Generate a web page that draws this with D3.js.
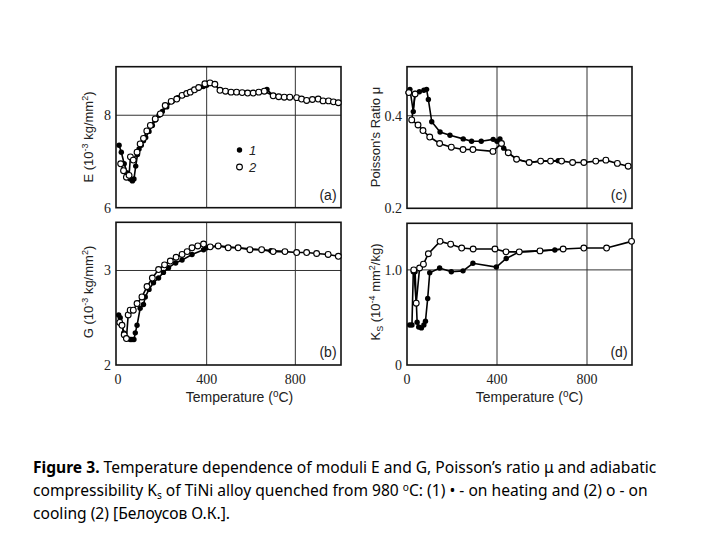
<!DOCTYPE html>
<html><head><meta charset="utf-8">
<script src="https://cdn.jsdelivr.net/npm/d3@7"></script>
<style>html,body{margin:0;padding:0;background:#fff;}svg{display:block;}</style>
</head><body>
<script>
// ---------------- data ----------------
const tempTicks = [0, 400, 800];

// (a) Young's modulus E
const eHeatT = [5, 15, 28, 42, 55, 65, 72, 80, 88, 95, 105, 115, 125, 140, 155, 170, 185, 200, 220, 245, 270, 300, 330, 360, 385, 400, 437, 460, 510, 560, 610, 660, 672, 700];
const eHeat  = [7.35, 7.2, 6.95, 6.75, 6.62, 6.58, 6.62, 6.9, 7.15, 7.27, 7.35, 7.45, 7.52, 7.65, 7.78, 7.9, 8.0, 8.08, 8.18, 8.3, 8.38, 8.45, 8.52, 8.58, 8.62, 8.65, 8.67, 8.54, 8.5, 8.49, 8.48, 8.52, 8.56, 8.42];
const eCoolT = [12, 25, 38, 50, 56, 69, 86, 100, 115, 130, 146, 168, 191, 213, 240, 265, 289, 310, 326, 345, 364, 392, 415, 437, 460, 485, 510, 535, 560, 585, 610, 635, 660, 700, 725, 750, 775, 806, 828, 851, 877, 903, 925, 950, 972, 994];
const eCool  = [6.95, 6.8, 6.66, 6.7, 7.1, 7.03, 7.2, 7.38, 7.5, 7.66, 7.78, 7.92, 8.03, 8.21, 8.3, 8.35, 8.43, 8.47, 8.5, 8.55, 8.6, 8.68, 8.7, 8.67, 8.54, 8.52, 8.5, 8.5, 8.49, 8.48, 8.48, 8.5, 8.52, 8.42, 8.4, 8.39, 8.39, 8.38, 8.35, 8.32, 8.34, 8.35, 8.31, 8.31, 8.29, 8.27];

// (b) shear modulus G
const gHeatT = [3, 10, 18, 26, 41, 55, 63, 72, 78, 86, 100, 115, 123, 140, 160, 183, 205, 228, 260, 289, 334, 386, 400, 452, 542, 648, 690, 753];
const gHeat  = [2.53, 2.5, 2.42, 2.34, 2.28, 2.27, 2.27, 2.27, 2.34, 2.42, 2.6, 2.64, 2.72, 2.8, 2.87, 2.92, 2.98, 3.03, 3.08, 3.11, 3.17, 3.22, 3.24, 3.26, 3.24, 3.22, 3.21, 3.2];
const gCoolT = [8, 18, 28, 38, 46, 55, 69, 86, 108, 131, 155, 183, 210, 236, 262, 289, 312, 334, 360, 386, 416, 452, 497, 542, 595, 648, 700, 753, 806, 851, 896, 948, 994];
const gCool  = [2.45, 2.42, 2.32, 2.28, 2.53, 2.58, 2.58, 2.65, 2.72, 2.83, 2.92, 3.01, 3.06, 3.1, 3.14, 3.17, 3.2, 3.24, 3.26, 3.28, 3.25, 3.26, 3.24, 3.24, 3.22, 3.22, 3.2, 3.2, 3.19, 3.19, 3.18, 3.17, 3.15];

// (c) Poisson's ratio
const muHeatT = [5, 13, 28, 36, 55, 75, 87, 95, 110, 147, 191, 250, 287, 330, 383, 400, 413, 430, 450, 487, 543, 594, 638, 672, 687];
const muHeat  = [0.45, 0.457, 0.409, 0.448, 0.452, 0.455, 0.457, 0.435, 0.387, 0.365, 0.358, 0.35, 0.345, 0.345, 0.349, 0.345, 0.35, 0.33, 0.32, 0.306, 0.299, 0.302, 0.302, 0.303, 0.302];
const muCoolT = [8, 36, 21, 49, 71, 101, 145, 197, 249, 293, 382, 420, 450, 487, 543, 594, 638, 687, 736, 786, 839, 884, 935, 983];
const muCool  = [0.45, 0.447, 0.391, 0.38, 0.368, 0.354, 0.34, 0.332, 0.327, 0.327, 0.323, 0.34, 0.32, 0.306, 0.299, 0.302, 0.302, 0.302, 0.299, 0.299, 0.302, 0.304, 0.297, 0.291];

// (d) adiabatic compressibility Ks
const kHeatT = [12, 22, 28, 36, 45, 52, 64, 75, 82, 92, 101, 145, 197, 249, 293, 397, 441, 499, 591, 657, 694];
const kHeat  = [0.42, 0.42, 0.98, 0.98, 0.45, 0.4, 0.39, 0.42, 0.46, 0.7, 0.97, 1.02, 0.98, 0.99, 1.07, 1.03, 1.12, 1.19, 1.2, 1.21, 1.22];
const kCoolT = [30, 41, 56, 73, 95, 147, 194, 243, 294, 391, 440, 499, 591, 694, 786, 887, 998];
const kCool  = [1.0, 0.65, 1.02, 1.06, 1.17, 1.3, 1.27, 1.23, 1.22, 1.22, 1.19, 1.19, 1.2, 1.22, 1.23, 1.23, 1.3];

const yTicksA = [6, 8], yTicksB = [2, 3], yTicksC = [0.2, 0.4], yTicksD = [0, 1.0];
const yGridA = [8], yGridB = [3], yGridC = [0.4], yGridD = [1.0];
const legendLabels = ["1", "2"];

// ---------------- layout ----------------
const W = 720, H = 540;
const svg = d3.select("body").append("svg").attr("width", W).attr("height", H);

const panels = [
  {id:"(a)", x0:116, x1:341, y0:66.7, y1:207.7, xd:[-9,1006], yd:[6,9.05], yt:yTicksA, yg:yGridA, yfmt:d3.format("d"),
   heat:[eHeatT,eHeat], cool:[eCoolT,eCool], xlab:false},
  {id:"(b)", x0:116, x1:341, y0:222.3, y1:365, xd:[-9,1006], yd:[2,3.51], yt:yTicksB, yg:yGridB, yfmt:d3.format("d"),
   heat:[gHeatT,gHeat], cool:[gCoolT,gCool], xlab:true},
  {id:"(c)", x0:407, x1:632, y0:66.7, y1:208.3, xd:[0,1000], yd:[0.2,0.506], yt:yTicksC, yg:yGridC, yfmt:d3.format(".1f"),
   heat:[muHeatT,muHeat], cool:[muCoolT,muCool], xlab:false},
  {id:"(d)", x0:407, x1:632, y0:223.3, y1:365, xd:[0,1000], yd:[0,1.49], yt:yTicksD, yg:yGridD, yfmt:(v)=> v===0?"0":d3.format(".1f")(v),
   heat:[kHeatT,kHeat], cool:[kCoolT,kCool], xlab:true}
];

const serif = "Liberation Serif, DejaVu Serif, serif";
const sans = "Liberation Sans, Arimo, DejaVu Sans, sans-serif";

panels.forEach(p => {
  const x = d3.scaleLinear().domain(p.xd).range([p.x0, p.x1]);
  const y = d3.scaleLinear().domain(p.yd).range([p.y1, p.y0]);
  const g = svg.append("g");
  g.selectAll(".vg").data(tempTicks.filter(t=>t>0)).join("line")
    .attr("x1", d=>x(d)).attr("x2", d=>x(d)).attr("y1", p.y0).attr("y2", p.y1)
    .attr("stroke", "#333").attr("stroke-width", 1);
  g.selectAll(".hg").data(p.yg).join("line")
    .attr("x1", p.x0).attr("x2", p.x1).attr("y1", d=>y(d)).attr("y2", d=>y(d))
    .attr("stroke", "#333").attr("stroke-width", 1);
  g.append("rect").attr("x", p.x0).attr("y", p.y0).attr("width", p.x1-p.x0).attr("height", p.y1-p.y0)
    .attr("fill", "none").attr("stroke", "#111").attr("stroke-width", 1.6);
  g.selectAll(".yt").data(p.yt).join("text")
    .attr("x", p.x0 - 5).attr("y", d=>y(d)).attr("dy", "0.35em")
    .attr("text-anchor", "end").style("font-family", serif).attr("font-size", 14).attr("fill", "#222")
    .text(p.yfmt);
  if (p.xlab) {
    g.selectAll(".xt").data(tempTicks).join("text")
      .attr("x", d=>x(d)).attr("y", p.y1 + 14).attr("dy", "0.35em")
      .attr("text-anchor", "middle").style("font-family", serif).attr("font-size", 14).attr("fill", "#222")
      .text(d=>d);
    const t = g.append("text").attr("x", (x(0)+p.x1)/2 + 10).attr("y", 397).attr("dy","0.35em")
      .attr("text-anchor","middle").style("font-family", sans).attr("font-size", 14).attr("fill","#222");
    t.append("tspan").text("Temperature (");
    t.append("tspan").attr("dy", -5).attr("font-size", 10).text("o");
    t.append("tspan").attr("dy", 5).text("C)");
  }
  const line = d3.line().x(d=>x(d[0])).y(d=>y(d[1]));
  const heatPts = p.heat[0].map((t,i)=>[t, p.heat[1][i]]);
  const coolPts = p.cool[0].map((t,i)=>[t, p.cool[1][i]]);
  g.append("path").datum(heatPts).attr("d", line).attr("fill","none").attr("stroke","#000").attr("stroke-width",1.6);
  g.append("path").datum(coolPts).attr("d", line).attr("fill","none").attr("stroke","#000").attr("stroke-width",1.6);
  g.selectAll(".fc").data(heatPts).join("circle")
    .attr("cx", d=>x(d[0])).attr("cy", d=>y(d[1])).attr("r", 2.7)
    .attr("fill", "#000");
  g.selectAll(".oc").data(coolPts).join("circle")
    .attr("cx", d=>x(d[0])).attr("cy", d=>y(d[1])).attr("r", 2.9)
    .attr("fill", "#fff").attr("stroke", "#000").attr("stroke-width", 1.1);
  g.append("text").attr("x", p.x1 - 13).attr("y", p.y1 - 13).attr("dy","0.35em")
    .attr("text-anchor","middle").style("font-family", sans).attr("font-size", 14).attr("fill","#222").text(p.id);
});

function yTitle(cx, cy, build) {
  const t = svg.append("text").attr("transform", `translate(${cx},${cy}) rotate(-90)`)
    .attr("text-anchor","middle").attr("dy","0.35em").style("font-family", sans).attr("font-size", 13).attr("fill","#222");
  build(t);
}
yTitle(88, 137, t => {
  t.append("tspan").text("E  (10");
  t.append("tspan").attr("dy",-5).attr("font-size",9).text("-3");
  t.append("tspan").attr("dy",5).text(" kg/mm");
  t.append("tspan").attr("dy",-5).attr("font-size",9).text("2");
  t.append("tspan").attr("dy",5).text(")");
});
yTitle(88, 292, t => {
  t.append("tspan").text("G  (10");
  t.append("tspan").attr("dy",-5).attr("font-size",9).text("-3");
  t.append("tspan").attr("dy",5).text(" kg/mm");
  t.append("tspan").attr("dy",-5).attr("font-size",9).text("2");
  t.append("tspan").attr("dy",5).text(")");
});
yTitle(375, 137, t => {
  t.append("tspan").text("Poisson's Ratio  μ");
});
yTitle(375, 292, t => {
  t.append("tspan").text("K");
  t.append("tspan").attr("dy",3).attr("font-size",9).text("S");
  t.append("tspan").attr("dy",-3).text(" (10");
  t.append("tspan").attr("dy",-5).attr("font-size",9).text("-4");
  t.append("tspan").attr("dy",5).text(" mm");
  t.append("tspan").attr("dy",-5).attr("font-size",9).text("2");
  t.append("tspan").attr("dy",5).text("/kg)");
});

// legend in panel (a)
const lg = svg.append("g");
lg.append("circle").attr("cx", 239.5).attr("cy", 150).attr("r", 2.7).attr("fill", "#000");
lg.append("circle").attr("cx", 239.5).attr("cy", 167).attr("r", 2.9).attr("fill", "#fff").attr("stroke","#000").attr("stroke-width",1.1);
lg.selectAll("text").data(legendLabels).join("text")
  .attr("x", 249).attr("y", (d,i)=> 150 + i*17).attr("dy","0.35em")
  .style("font-family", sans).attr("font-style","italic").attr("font-size", 13).attr("fill","#222").text(d=>d);

// caption
const capFont = "Liberation Sans Narrow, Arial Narrow, Noto Sans, sans-serif";
const cap = svg.append("g").style("font-family", capFont).attr("fill", "#000");
const l1 = cap.append("text").attr("x", 33).attr("y", 473);
l1.append("tspan").attr("font-weight","bold").text("Figure 3.");
l1.append("tspan").text(" Temperature dependence of moduli E and G, Poisson’s ratio μ and adiabatic");
const l2 = cap.append("text").attr("x", 33).attr("y", 496);
l2.append("tspan").text("compressibility K");
l2.append("tspan").attr("dy", 3).attr("font-size","0.65em").text("s");
l2.append("tspan").attr("dy", -3).text(" of TiNi alloy quenched from 980 ");
l2.append("tspan").attr("dy", -5).attr("font-size","0.65em").text("o");
l2.append("tspan").attr("dy", 5).text("C: (1) • - on heating and (2) o - on");
const l3 = cap.append("text").attr("x", 33).attr("y", 519).text("cooling (2) [Белоусов  О.К.].");
cap.attr("font-size", 16);
const w1 = l1.node().getComputedTextLength();
const fs = 16 * 624 / w1;
cap.attr("font-size", fs);
</script>
</body></html>
